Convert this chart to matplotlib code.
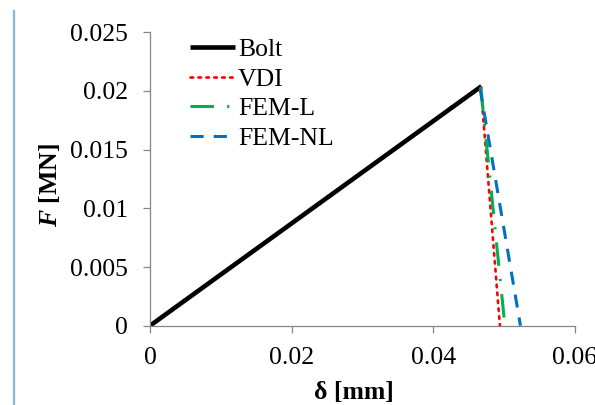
import matplotlib
matplotlib.use("Agg")
import matplotlib.pyplot as plt
from matplotlib.lines import Line2D

plt.rcParams["font.family"] = ["Liberation Serif", "DejaVu Serif"]
plt.rcParams["mathtext.fontset"] = "custom"
plt.rcParams["mathtext.it"] = "Liberation Serif:italic:bold"
plt.rcParams["mathtext.rm"] = "Liberation Serif:bold"

# data
bolt_x = [0.0, 0.0468]
bolt_y = [0.0, 0.0204]
vdi_x = [0.0467, 0.0494]
vdi_y = [0.0203, 0.0]
feml_x = [0.0467, 0.0501]
feml_y = [0.0203, 0.0]
femnl_x = [0.0466, 0.0523]
femnl_y = [0.0202, 0.0]

xticks = [0, 0.02, 0.04, 0.06]
xlabels = ["0", "0.02", "0.04", "0.06"]
yticks = [0, 0.005, 0.01, 0.015, 0.02, 0.025]
ylabels = ["0", "0.005", "0.01", "0.015", "0.02", "0.025"]

GRAY = "#868686"
FS = 18.5

fig = plt.figure(figsize=(5.95, 4.05), dpi=100)
fig.patch.set_facecolor("white")
ax = fig.add_axes([150/595, 1-325.7/405, 425/595, (325.7-32.2)/405])

ax.plot(bolt_x, bolt_y, color="black", lw=3.3, solid_capstyle="butt", label="Bolt")
ax.plot(vdi_x, vdi_y, color="#FF0000", lw=1.9, linestyle=(0, (1.0, 2.0)),
        dash_capstyle="round", label="VDI")
ax.plot(feml_x, feml_y, color="#00B050", lw=2.2, linestyle=(0, (7.7, 4.3, 0.7, 4.3)),
        label="FEM-L")
ax.plot(femnl_x, femnl_y, color="#0070C0", lw=2.2, linestyle=(0, (4.3, 3.3)),
        label="FEM-NL")

ax.set_xlim(0, 0.06)
ax.set_ylim(0, 0.025)
ax.set_xticks(xticks)
ax.set_xticklabels(xlabels)
ax.set_yticks(yticks)
ax.set_yticklabels(ylabels)

for s in ["top", "right"]:
    ax.spines[s].set_visible(False)
for s in ["left", "bottom"]:
    ax.spines[s].set_color(GRAY)
    ax.spines[s].set_linewidth(0.9)
ax.tick_params(axis="both", direction="out", length=5, width=0.9, color=GRAY,
               labelsize=FS, labelcolor="black")
ax.tick_params(axis="y", pad=11)
ax.tick_params(axis="x", pad=10.5)

leg = ax.legend(loc="upper left", bbox_to_anchor=(0.07, 1.015), frameon=False,
                fontsize=FS, handlelength=1.75, handletextpad=0.12,
                labelspacing=0.26, borderaxespad=0)

fig.text(354/595, 1-392/405, "\u03b4 [mm]", ha="center", va="center",
         fontsize=FS, fontweight="bold")
fig.text(49/595, 1-185/405, r"$F$ [MN]", ha="center", va="center",
         fontsize=FS, fontweight="bold", rotation=90)

# light blue vertical mark at the left edge
fig.add_artist(Line2D([14/595, 14/595], [0, 1-11/405], color="#8DB4E2", lw=1.6))

fig.savefig("out.png", dpi=100, facecolor="white")
